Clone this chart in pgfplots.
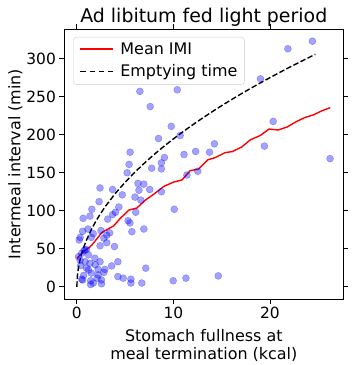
\documentclass[border=0pt]{standalone}
\usepackage{fontspec}
\setmainfont{DejaVu Sans}
\usepackage{xcolor}
\usepackage{pgfplots}
\usepackage{pgfplotstable}
\pgfplotsset{compat=1.18}

% scatter of meals: fullness (kcal) vs intermeal interval (min)
\pgfplotstableread{
x y
6.53 257
10.4 259
7.6 237
9.78 211
8.46 195
10.7 199
5.52 177
9.07 170
11.1 174
12.3 178
13.74 177
5.41 161
5.21 150
7.75 156
8.76 163
8.76 155
11.4 147
12.52 152
14.25 188
19.02 273.5
20.34 217.5
19.43 185
21.86 313
24.4 323
26.23 168.6
14.65 14.4
6.33 136
6.94 135
6.43 127
7.55 128
6.02 118
6.63 114
8.76 125
4.7 121
3.7 128
2.4 130
2.3 112
1.55 102
4.35 105
4.0 98
3.7 95
1.36 93
0.65 90
3.2 89
5.3 87
5.5 84
6.1 98
10.09 102
6.94 76
5.7 72.5
2.5 74
1.15 76
0.6 73
3.4 71
3.1 68
0.34 65
0.24 61.6
1.7 70
2.8 64
2.4 54
3.9 53
1.0 49
0.75 47.6
1.5 65
3.1 58
0.17 39.7
0.5 44
1.2 42
0.85 33
1.36 31
1.9 29
2.2 23
1.0 24.5
1.5 18
2.2 15.7
2.9 23
3.6 27.5
4.25 33
0.5 10
1.43 8
2.1 11.4
2.55 9
1.7 5
4.25 13.5
4.8 11.4
5.6 10
5.6 5
0.34 35
0.85 48.5
1.87 37.6
2.4 33
1.2 22
7.14 24.5
6.73 5
9.98 8
11.3 11.4
2.55 4
1.43 3
0.6 9
2.8 19
0.4 28
0.7 15
}\meals

% legend samples as coloured rules (solid / dashed)
\newcommand{\solidkey}{\textcolor{red}{\rule[5bp]{33bp}{1.4bp}}\hspace{7bp}}
\newcommand{\dashkey}{\rule[5bp]{5.5bp}{1.4bp}\hspace{3.6bp}\rule[5bp]{5.5bp}{1.4bp}\hspace{3.6bp}%
  \rule[5bp]{5.5bp}{1.4bp}\hspace{3.6bp}\rule[5bp]{5.5bp}{1.4bp}\hspace{7bp}}

\begin{document}
\begin{tikzpicture}
\begin{axis}[
  scale only axis, width=279bp, height=270bp,
  xmin=-1.3, xmax=27.6, ymin=-16, ymax=339,
  xtick={0,10,20}, ytick={0,50,100,150,200,250,300},
  tick align=outside, major tick length=4.9bp,
  tick style={black, line width=0.8bp},
  axis line style={line width=0.8bp},
  /pgf/number format/assume math mode=true,
  tick label style={font=\fontsize{15.5}{18}\selectfont},
  label style={font=\fontsize{16}{19}\selectfont},
  title style={font=\fontsize{19}{22}\selectfont, yshift=-7bp},
  title={Ad libitum fed light period},
  xlabel={Stomach fullness at\\meal termination (kcal)},
  xlabel style={align=center, yshift=-3bp},
  ylabel={Intermeal interval (min)},
  ylabel style={yshift=-3bp},
  legend cell align=left,
  legend style={at={(0,1)}, anchor=north west, xshift=9bp, yshift=-8bp,
    font=\fontsize{16}{19}\selectfont,
    draw=black!20, rounded corners=3bp, fill=white,
    inner xsep=5bp, inner ysep=4bp, row sep=4.5bp,
    /tikz/every odd column/.append style={column sep=0bp}},
]
\addplot[blue, only marks, mark=*, mark size=3.5bp, opacity=0.36, forget plot]
  table[x=x, y=y] {\meals};

\addplot[color=red, line width=1.4bp, forget plot] coordinates {
(0.0,37.5)(0.68,46.4)(1.38,52.6)(1.72,57.4)(2.59,71.5)(3.8,80)(4.5,90)
(5.4,101)(6.2,103.5)(7.1,114)(8.1,123)(9.0,132)(10.0,137.6)(10.9,140.6)
(11.74,152.8)(12.6,154.7)(13.55,166.9)(14.33,169.9)(15.37,176.5)(16.1,177.8)
(17.1,184)(17.96,193.2)(19.0,199)(19.9,207.4)(20.85,206.2)(21.8,210.2)
(22.7,217)(23.6,222.5)(24.5,226)(25.3,231)(26.25,235.6)
};

\addplot[color=black, line width=1.4bp, dash pattern=on 5.5bp off 2.4bp, forget plot] coordinates {
(0,0)(0.05,13.8)(0.15,23.8)(0.3,33.7)(0.5,43.5)(0.75,53.3)(1,61.5)(1.5,75.3)
(2,87.0)(2.5,97.2)(3,106.5)(4,123.0)(5,137.5)(6,150.6)(7,162.7)(8,174.0)
(9,184.5)(10,194.5)(11,204.0)(12,213.0)(13,221.7)(14,230.1)(15,238.2)
(16,246.0)(17,253.6)(18,260.9)(19,268.1)(20,275.0)(21,281.8)(22,288.5)
(23,294.9)(24,301.3)(24.7,305.7)
};

\addlegendimage{empty legend}
\addlegendentry{\solidkey Mean IMI}
\addlegendimage{empty legend}
\addlegendentry{\dashkey Emptying time}
\end{axis}
\pgfresetboundingbox
\path[use as bounding box] ([xshift=-64.3bp,yshift=-66bp]current axis.south west)
  rectangle ([xshift=9.7bp,yshift=29bp]current axis.north east);
\end{tikzpicture}
\end{document}
